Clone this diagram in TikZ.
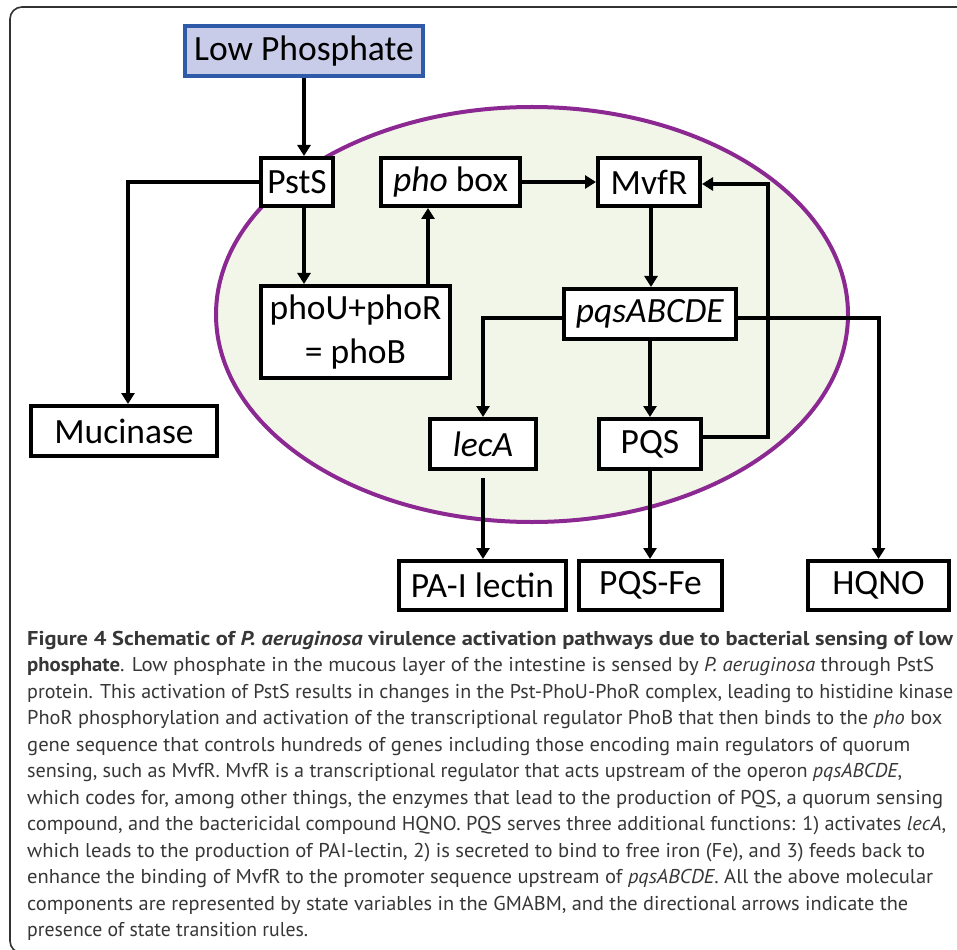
\documentclass[tikz,border=0pt]{standalone}
\usepackage{fontspec}
\usepackage{graphicx}
\setmainfont{Carlito}
\newfontfamily\capfont{PT Sans}
\usetikzlibrary{arrows.meta}
\definecolor{lpfill}{RGB}{200,204,232}
\definecolor{lpdraw}{RGB}{47,90,168}
\definecolor{ellfill}{RGB}{242,246,232}
\definecolor{elldraw}{RGB}{140,40,145}
\definecolor{captext}{RGB}{55,55,55}
\definecolor{frame}{RGB}{50,50,50}
\newcommand\capfit[2]{\resizebox{#1pt}{\height}{#2}}
\tikzset{
  stbox/.style={draw=black, line width=4pt, fill=white, inner sep=0pt, font=\fontsize{35.5}{44}\selectfont, align=center},
  conn/.style={line width=4pt, draw=black},
  arr/.style={conn, -{Triangle[length=11pt,width=13pt]}},
  capline/.style={anchor=base west, inner sep=0pt, text=captext, font=\capfont\fontsize{20}{26.5}\selectfont}
}
\begin{document}
\begin{tikzpicture}[x=1pt,y=-1pt]
\useasboundingbox (0,0) rectangle (957,949);
\clip (0,0) rectangle (957,949);
\fill[white] (0,0) rectangle (957,949);
% frame
\draw[frame, line width=1.6pt, rounded corners=12pt] (10,7) rectangle (980,953);
% ellipse
\draw[elldraw, fill=ellfill, line width=4pt] (532,314.5) ellipse [x radius=316pt, y radius=207.5pt];
% nodes
\node[stbox, draw=lpdraw, fill=lpfill, minimum width=238pt, minimum height=50pt] (lp) at (304,51) {Low Phosphate};
\node[stbox, minimum width=72pt, minimum height=48pt] (psts) at (297,182) {PstS};
\node[stbox, minimum width=139pt, minimum height=48pt] (phobox) at (450.5,182) {\textit{pho} box};
\node[stbox, minimum width=102pt, minimum height=48pt] (mvfr) at (649,182) {MvfR};
\node[stbox, minimum width=189pt, minimum height=92pt] (phou) at (355.5,332) {phoU+phoR\\= phoB};
\node[stbox, minimum width=172pt, minimum height=50pt] (pqsop) at (650,314) {\textit{pqsABCDE}};
\node[stbox, minimum width=106pt, minimum height=50pt] (leca) at (483,444) {\textit{lecA}};
\node[stbox, minimum width=102pt, minimum height=50pt] (pqs) at (650,444) {PQS};
\node[stbox, minimum width=186pt, minimum height=50pt] (muc) at (124,431) {Mucinase};
\node[stbox, minimum width=167pt, minimum height=49pt] (pal) at (482.5,585.5) {PA-I lectin};
\node[stbox, minimum width=143pt, minimum height=49pt] (pqsfe) at (650.5,585.5) {PQS-Fe};
\node[stbox, minimum width=141pt, minimum height=49pt] (hqno) at (878.5,585.5) {HQNO};
\coordinate (fbA) at (768,437);
\coordinate (fbB) at (768,184);
% connectors
\draw[arr] (lp.south) -- (lp.south |- psts.north);
\draw[arr] (psts.west) -| ([xshift=4pt]muc.north);
\draw[arr] (lp.south |- psts.south) -- (lp.south |- phou.north);
\draw[arr] ([xshift=72.5pt]phou.north) -- ([xshift=72.5pt]phou.north |- phobox.south);
\draw[arr] (phobox.east) -- (mvfr.west);
\draw[arr] ([xshift=2pt]mvfr.south) -- ([xshift=2pt]mvfr.south |- pqsop.north);
\draw[arr] (pqsop.west |- 0,318) -| (leca.north);
\draw[arr] (pqsop.south) -- (pqs.north);
\draw[arr] (pqsop.east |- 0,318) -| (hqno.north);
\draw[arr] (pqs.east |- fbA) -- (fbA) -- (fbB) -- (mvfr.east |- fbB);
\draw[arr] ([yshift=-7pt]leca.south) -- (leca.south |- pal.north);
\draw[arr] (pqs.south) -- (pqs.south |- pqsfe.north);
% caption
\node[capline] (c1) at (27,645) {\capfit{926}{\textbf{Figure 4 Schematic of \textit{P. aeruginosa} virulence activation pathways due to bacterial sensing of low}}};
\node[capline] (c2) at (27,671.5) {\capfit{907}{\textbf{phosphate}. Low phosphate in the mucous layer of the intestine is sensed by \textit{P. aeruginosa} through PstS}};
\node[capline] (c3) at (27,698) {\capfit{926}{protein. This activation of PstS results in changes in the Pst-PhoU-PhoR complex, leading to histidine kinase}};
\node[capline] (c4) at (27,724.5) {\capfit{915}{PhoR phosphorylation and activation of the transcriptional regulator PhoB that then binds to the \textit{pho} box}};
\node[capline] (c5) at (27,751) {\capfit{883}{gene sequence that controls hundreds of genes including those encoding main regulators of quorum}};
\node[capline] (c6) at (27,777.5) {\capfit{875}{sensing, such as MvfR. MvfR is a transcriptional regulator that acts upstream of the operon \textit{pqsABCDE},}};
\node[capline] (c7) at (27,804) {\capfit{916}{which codes for, among other things, the enzymes that lead to the production of PQS, a quorum sensing}};
\node[capline] (c8) at (27,830.5) {\capfit{919}{compound, and the bactericidal compound HQNO. PQS serves three additional functions: 1) activates \textit{lecA},}};
\node[capline] (c9) at (27,857) {\capfit{898}{which leads to the production of PAI-lectin, 2) is secreted to bind to free iron (Fe), and 3) feeds back to}};
\node[capline] (c10) at (27,883.5) {\capfit{906}{enhance the binding of MvfR to the promoter sequence upstream of \textit{pqsABCDE}. All the above molecular}};
\node[capline] (c11) at (27,910) {\capfit{881}{components are represented by state variables in the GMABM, and the directional arrows indicate the}};
\node[capline] (c12) at (27,936.5) {\capfit{281}{presence of state transition rules.}};
\end{tikzpicture}
\end{document}
